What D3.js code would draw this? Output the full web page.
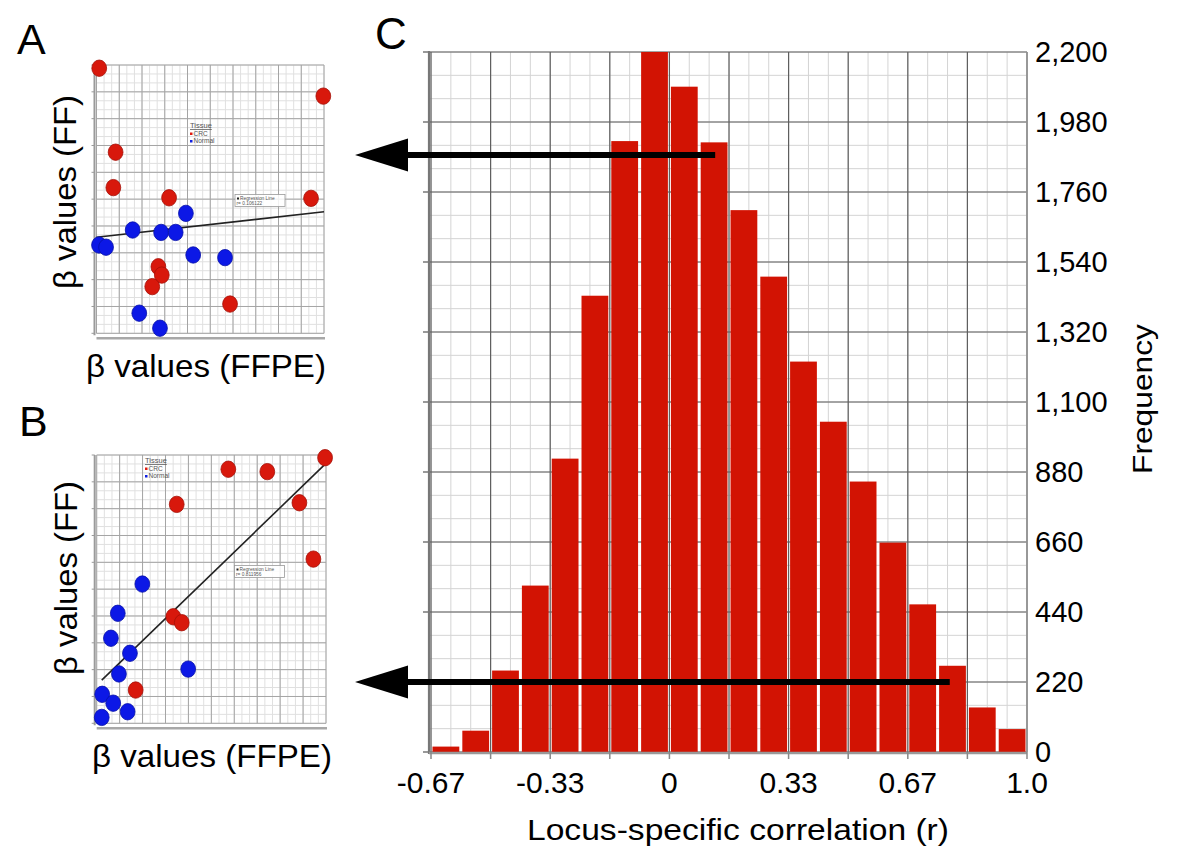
<!DOCTYPE html>
<html><head><meta charset="utf-8">
<script src="https://cdn.jsdelivr.net/npm/d3@7"></script>
<style>
body{margin:0;background:#fff}
svg{display:block}
text{font-family:"Liberation Sans",Arial,Helvetica,sans-serif;fill:#000}
</style>
</head><body>
<svg id="chart" width="1200" height="862"></svg>
<script>
// ---------------- Panel A data (beta values, FFPE vs FF) ----------------
const aCrcX  = [0.012, 0.997, 0.084, 0.074, 0.319, 0.943, 0.272, 0.287, 0.245, 0.587];
const aCrcY  = [0.988, 0.884, 0.675, 0.543, 0.505, 0.503, 0.248, 0.217, 0.174, 0.109];
const aNormX = [0.393, 0.159, 0.284, 0.348, 0.011, 0.042, 0.425, 0.565, 0.188, 0.279];
const aNormY = [0.447, 0.385, 0.376, 0.376, 0.329, 0.321, 0.292, 0.282, 0.075, 0.019];
const aRegX  = [0.0, 1.0];
const aRegY  = [0.358, 0.453];
const aRText = "r= 0.106122";

// ---------------- Panel B data ----------------
const bCrcX  = [0.996, 0.574, 0.744, 0.349, 0.884, 0.945, 0.334, 0.371, 0.170];
const bCrcY  = [0.990, 0.947, 0.938, 0.816, 0.822, 0.612, 0.397, 0.375, 0.124];
const bNormX = [0.199, 0.092, 0.062, 0.145, 0.399, 0.097, 0.024, 0.072, 0.135, 0.022];
const bNormY = [0.519, 0.410, 0.317, 0.261, 0.202, 0.184, 0.108, 0.075, 0.043, 0.022];
const bRegX  = [0.022, 0.993];
const bRegY  = [0.161, 0.963];
const bRText = "r= 0.811956";

const legendTitle = "Tissue";
const legendItems = ["CRC", "Normal"];

// ---------------- Panel C data (histogram) ----------------
const binStarts = [-0.6667, -0.5833, -0.5, -0.4167, -0.3333, -0.25, -0.1667, -0.0833,
                   0, 0.0833, 0.1667, 0.25, 0.3333, 0.4167, 0.5, 0.5833, 0.6667, 0.75, 0.8333, 0.9167];
const binWidth = 0.0833;
const frequency = [17, 67, 256, 523, 922, 1434, 1920, 2200, 2091, 1916,
                   1703, 1494, 1227, 1038, 850, 658, 464, 271, 140, 72];
const xTickValues = [-0.6667, -0.5, -0.3333, -0.1667, 0, 0.1667, 0.3333, 0.5, 0.6667, 0.8333, 1.0];
const xTickLabels = ["-0.67", "", "-0.33", "", "0", "", "0.33", "", "0.67", "", "1.0"];
const yTickValues = [0, 220, 440, 660, 880, 1100, 1320, 1540, 1760, 1980, 2200];
// annotation arrows: [r value where arrow starts, frequency level]
const arrowStartR = [0.128, 0.784];
const arrowLevel  = [1876, 220];

const svg = d3.select("#chart");
const FONT = '"Liberation Sans",Arial,Helvetica,sans-serif';

// ================= scatter panels =================
function scatterPanel(cfg) {
  const x = d3.scaleLinear().domain([0, 1]).range([cfg.x0, cfg.x1]);
  const y = d3.scaleLinear().domain([0, 1]).range([cfg.y0, cfg.y1]);
  const g = svg.append("g");
  const minor = d3.range(0, 31).map(i => i / 30);
  const major = d3.range(0, 11).map(i => i / 10);
  g.selectAll(".vmin").data(minor).join("line")
    .attr("x1", d => x(d)).attr("x2", d => x(d)).attr("y1", y(0)).attr("y2", y(1))
    .attr("stroke", "#e0e0e0").attr("stroke-width", 1);
  g.selectAll(".hmin").data(minor).join("line")
    .attr("y1", d => y(d)).attr("y2", d => y(d)).attr("x1", x(0)).attr("x2", x(1))
    .attr("stroke", "#e0e0e0").attr("stroke-width", 1);
  g.selectAll(".vmaj").data(major).join("line")
    .attr("x1", d => x(d)).attr("x2", d => x(d)).attr("y1", y(0)).attr("y2", y(1))
    .attr("stroke", "#a4a4a4").attr("stroke-width", 1);
  g.selectAll(".hmaj").data(major).join("line")
    .attr("y1", d => y(d)).attr("y2", d => y(d)).attr("x1", x(0)).attr("x2", x(1))
    .attr("stroke", "#a4a4a4").attr("stroke-width", 1);
  // left axis with ticks
  g.append("line").attr("x1", x(0) - 2).attr("x2", x(0) - 2).attr("y1", y(1)).attr("y2", y(0) + 2)
    .attr("stroke", "#9a9a9a").attr("stroke-width", 2);
  g.selectAll(".lt").data(major).join("line")
    .attr("x1", x(0) - 5).attr("x2", x(0) - 2).attr("y1", d => y(d)).attr("y2", d => y(d))
    .attr("stroke", "#9a9a9a").attr("stroke-width", 1);
  // bottom axis
  g.append("line").attr("x1", x(0)).attr("x2", x(1) + 1).attr("y1", y(0) + 5).attr("y2", y(0) + 5)
    .attr("stroke", "#a8a8a8").attr("stroke-width", 2.5);

  // legend (tissue)
  const lg = g.append("g").attr("font-family", FONT).attr("font-size", 6.5);
  lg.append("text").attr("x", cfg.legX).attr("y", cfg.legY).text(legendTitle)
    .style("fill", "#555").attr("font-size", 7.5).attr("text-decoration", "underline");
  const legColors = ["#e01a10", "#1020e0"];
  legendItems.forEach((t, i) => {
    lg.append("rect").attr("x", cfg.legX).attr("y", cfg.legY + 4.5 + i * 7.5).attr("width", 2.5).attr("height", 2.5)
      .attr("fill", legColors[i]);
    lg.append("text").attr("x", cfg.legX + 3.5).attr("y", cfg.legY + 7.5 + i * 7.5).text(t).style("fill", "#555");
  });

  // regression legend box
  const rb = g.append("g");
  rb.append("rect").attr("x", cfg.rbX).attr("y", cfg.rbY).attr("width", 50).attr("height", 12)
    .attr("fill", "#fff").attr("fill-opacity", 0.85).attr("stroke", "#999").attr("stroke-width", 0.8);
  rb.append("rect").attr("x", cfg.rbX + 2).attr("y", cfg.rbY + 3).attr("width", 2).attr("height", 2).attr("fill", "#222");
  rb.append("text").attr("x", cfg.rbX + 5).attr("y", cfg.rbY + 5.5).attr("font-size", 4.8).text("Regression Line").style("fill", "#555");
  rb.append("text").attr("x", cfg.rbX + 1.5).attr("y", cfg.rbY + 10.5).attr("font-size", 4.8).text(cfg.rText).style("fill", "#555");

  // regression line
  g.append("line").attr("x1", x(cfg.regX[0])).attr("y1", y(cfg.regY[0]))
    .attr("x2", x(cfg.regX[1])).attr("y2", y(cfg.regY[1]))
    .attr("stroke", "#222").attr("stroke-width", 1.6);

  // points
  const crc = cfg.crcX.map((v, i) => [v, cfg.crcY[i]]);
  const norm = cfg.normX.map((v, i) => [v, cfg.normY[i]]);
  g.selectAll(".crc").data(crc).join("ellipse")
    .attr("cx", d => x(d[0])).attr("cy", d => y(d[1])).attr("rx", 7.4).attr("ry", 8.2)
    .attr("fill", "#d8180c").attr("stroke", "#a41008").attr("stroke-width", 0.8);
  g.selectAll(".norm").data(norm).join("ellipse")
    .attr("cx", d => x(d[0])).attr("cy", d => y(d[1])).attr("rx", 7.4).attr("ry", 8.2)
    .attr("fill", "#0c18e6").attr("stroke", "#0610a8").attr("stroke-width", 0.8);

  // axis titles
  svg.append("text").attr("transform", `translate(${cfg.yTitleX},${cfg.yTitleY}) rotate(-90)`)
    .attr("text-anchor", "middle").attr("font-size", 32)
    .attr("textLength", 194).attr("lengthAdjust", "spacingAndGlyphs").text("β values (FF)");
  svg.append("text").attr("x", cfg.xTitleX).attr("y", cfg.xTitleY)
    .attr("text-anchor", "middle").attr("font-size", 32)
    .attr("textLength", 240).attr("lengthAdjust", "spacingAndGlyphs").text("β values (FFPE)");
  svg.append("text").attr("x", cfg.letterX).attr("y", cfg.letterY).attr("font-size", 43).text(cfg.letter);
}

scatterPanel({
  x0: 96.5, x1: 324, y0: 333.3, y1: 65,
  crcX: aCrcX, crcY: aCrcY, normX: aNormX, normY: aNormY,
  regX: aRegX, regY: aRegY, rText: aRText,
  legX: 190, legY: 128, rbX: 235, rbY: 194.5,
  yTitleX: 76, yTitleY: 192, xTitleX: 206, xTitleY: 377,
  letter: "A", letterX: 17, letterY: 54
});
scatterPanel({
  x0: 96.7, x1: 326, y0: 723.3, y1: 455,
  crcX: bCrcX, crcY: bCrcY, normX: bNormX, normY: bNormY,
  regX: bRegX, regY: bRegY, rText: bRText,
  legX: 145, legY: 463, rbX: 234.5, rbY: 565.5,
  yTitleX: 77, yTitleY: 578, xTitleX: 212, xTitleY: 767,
  letter: "B", letterX: 19, letterY: 436
});

// ================= histogram =================
const hx = d3.scaleLinear().domain([-0.6667, 1.0]).range([431, 1027]);
const hy = d3.scaleLinear().domain([0, 2200]).range([752, 52]);
const hg = svg.append("g");

// minor grid (thirds)
const xMinor = d3.range(0, 31).map(i => -0.6667 + i * (1.6667 / 30));
const yMinor = d3.range(0, 31).map(i => i * (2200 / 30));
hg.selectAll(".xm").data(xMinor).join("line")
  .attr("x1", d => hx(d)).attr("x2", d => hx(d)).attr("y1", hy(0)).attr("y2", hy(2200))
  .attr("stroke", "#d4d4d4").attr("stroke-width", 1);
hg.selectAll(".ym").data(yMinor).join("line")
  .attr("y1", d => hy(d)).attr("y2", d => hy(d)).attr("x1", hx(-0.6667) - 2).attr("x2", hx(1))
  .attr("stroke", "#d4d4d4").attr("stroke-width", 1);
// major grid
hg.selectAll(".xM").data(xTickValues).join("line")
  .attr("x1", d => hx(d)).attr("x2", d => hx(d)).attr("y1", hy(0)).attr("y2", hy(2200))
  .attr("stroke", "#5e5e5e").attr("stroke-width", 1.2);
hg.selectAll(".yM").data(yTickValues).join("line")
  .attr("y1", d => hy(d)).attr("y2", d => hy(d)).attr("x1", hx(-0.6667) - 2).attr("x2", hx(1))
  .attr("stroke", "#5e5e5e").attr("stroke-width", 1.2);

// bars
const bars = binStarts.map((b, i) => ({ b, f: frequency[i] }));
hg.selectAll(".bar").data(bars).join("rect")
  .attr("x", d => hx(d.b) + 1.5).attr("width", d => hx(d.b + binWidth) - hx(d.b) - 3)
  .attr("y", d => hy(d.f)).attr("height", d => hy(0) - hy(d.f))
  .attr("fill", "#d21303");

// left axis with ticks
hg.append("line").attr("x1", 429).attr("x2", 429).attr("y1", hy(2200) - 1).attr("y2", hy(0) + 2)
  .attr("stroke", "#777").attr("stroke-width", 2.2);
hg.selectAll(".lt").data(yTickValues).join("line")
  .attr("x1", 423).attr("x2", 429).attr("y1", d => hy(d)).attr("y2", d => hy(d))
  .attr("stroke", "#777").attr("stroke-width", 1.5);
// right border
hg.append("line").attr("x1", hx(1)).attr("x2", hx(1)).attr("y1", hy(2200)).attr("y2", hy(0))
  .attr("stroke", "#999").attr("stroke-width", 1.5);
// bottom axis with ticks
hg.append("line").attr("x1", 429).attr("x2", hx(1)).attr("y1", hy(0) + 1).attr("y2", hy(0) + 1)
  .attr("stroke", "#999").attr("stroke-width", 2.5);
hg.selectAll(".bt").data(xTickValues).join("line")
  .attr("x1", d => hx(d)).attr("x2", d => hx(d)).attr("y1", hy(0)).attr("y2", hy(0) + 7)
  .attr("stroke", "#888").attr("stroke-width", 1.5);

// x tick labels
hg.selectAll(".xl").data(xTickValues).join("text")
  .attr("x", d => hx(d)).attr("y", 793).attr("text-anchor", "middle")
  .attr("font-size", 30).text((d, i) => xTickLabels[i]);
// y tick labels (right side)
const fmt = d3.format(",");
hg.selectAll(".yl").data(yTickValues).join("text")
  .attr("x", 1035).attr("y", d => hy(d)).attr("dy", "0.36em")
  .attr("font-size", 29).text(d => fmt(d));
// axis titles
svg.append("text").attr("x", 738).attr("y", 840).attr("text-anchor", "middle")
  .attr("font-size", 30).attr("textLength", 422).attr("lengthAdjust", "spacingAndGlyphs")
  .text("Locus-specific correlation (r)");
svg.append("text").attr("transform", "translate(1152,399) rotate(-90)").attr("text-anchor", "middle")
  .attr("font-size", 28).attr("textLength", 150).attr("lengthAdjust", "spacingAndGlyphs")
  .text("Frequency");
svg.append("text").attr("x", 375).attr("y", 49).attr("font-size", 44).text("C");

// arrows
const tipX = 355;
arrowStartR.forEach((r, i) => {
  const yy = hy(arrowLevel[i]);
  svg.append("line").attr("x1", hx(r)).attr("x2", 400).attr("y1", yy).attr("y2", yy)
    .attr("stroke", "#000").attr("stroke-width", 6);
  svg.append("path").attr("d", `M${tipX},${yy} L${408},${yy - 16.5} L${408},${yy + 16.5} Z`).attr("fill", "#000");
});
</script>
</body></html>
